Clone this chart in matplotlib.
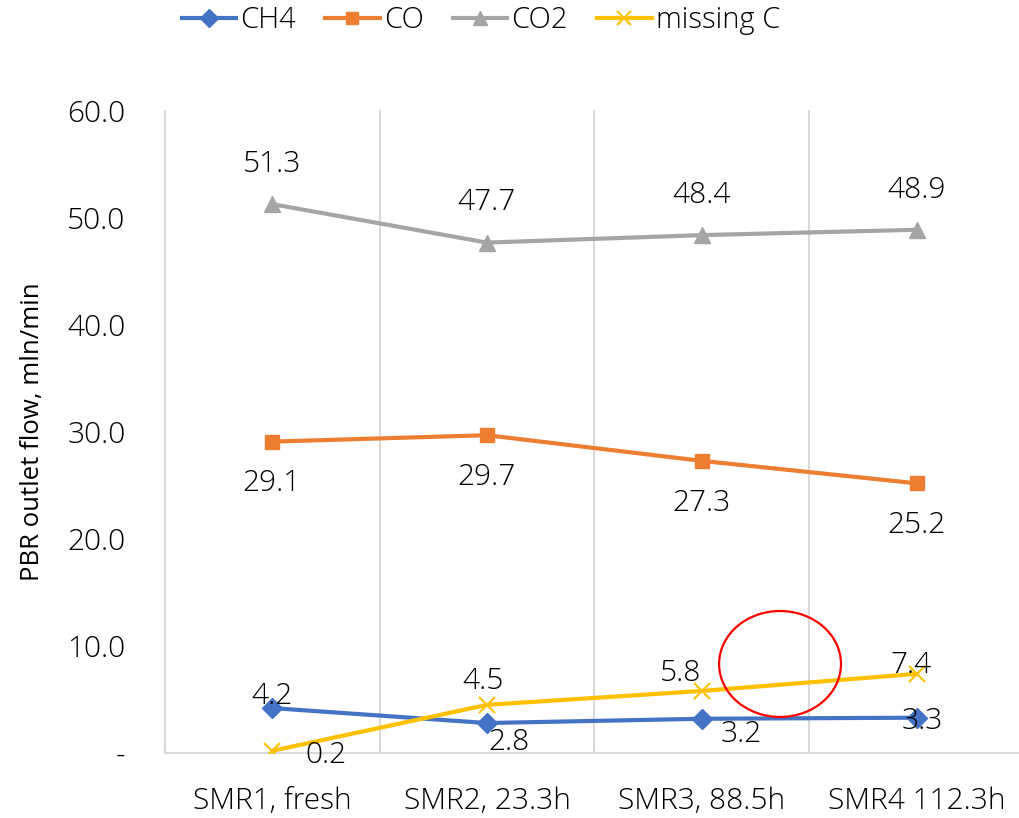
import matplotlib
matplotlib.use("Agg")
import matplotlib.pyplot as plt
from matplotlib.patches import Ellipse

plt.rcParams['font.family'] = ['Open Sans', 'DejaVu Sans']
plt.rcParams['font.weight'] = 'light'

categories = ["SMR1, fresh", "SMR2, 23.3h", "SMR3, 88.5h", "SMR4 112.3h"]
ch4 = [4.2, 2.8, 3.2, 3.3]
co = [29.1, 29.7, 27.3, 25.2]
co2 = [51.3, 47.7, 48.4, 48.9]
missing_c = [0.2, 4.5, 5.8, 7.4]
yticks = [0, 10, 20, 30, 40, 50, 60]
ytick_labels = ["-", "10.0", "20.0", "30.0", "40.0", "50.0", "60.0"]

W, H = 1020, 818
fig = plt.figure(figsize=(W / 100, H / 100), dpi=100)
left, right, top, bottom = 164.5, 1024.5, 111, 753
ax = fig.add_axes([left / W, 1 - bottom / H, (right - left) / W, (bottom - top) / H])

x = list(range(len(categories)))
fs = 21.5
l1, = ax.plot(x, ch4, color="#4472C4", lw=3, marker="D", ms=10, label="CH4", zorder=3)
l2, = ax.plot(x, co, color="#ED7D31", lw=3, marker="s", ms=10, label="CO", zorder=3)
l3, = ax.plot(x, co2, color="#A5A5A5", lw=3, marker="^", ms=11, label="CO2", zorder=3)
l4, = ax.plot(x, missing_c, color="#FFC000", lw=3, marker="x", ms=11, mew=1.5,
              label="missing C", zorder=3)

ax.set_xlim(-0.5, len(categories) - 0.5)
ax.set_ylim(0, 60)
ax.set_yticks(yticks)
ax.set_yticklabels(ytick_labels)
ax.set_xticks(x)
ax.set_xticklabels(categories)
ax.tick_params(axis='both', length=0, labelsize=fs, colors="#000000")
ax.tick_params(axis='y', pad=28)
ax.tick_params(axis='x', pad=24)
for lab in ax.get_yticklabels():
    lab.set_horizontalalignment('right')

for s in ["top", "right", "left"]:
    ax.spines[s].set_visible(False)
ax.spines["bottom"].set_color("#D9D9D9")
ax.spines["bottom"].set_linewidth(1.5)
for xv in [-0.5, 0.5, 1.5, 2.5, 3.5]:
    ax.axvline(xv, color="#D9D9D9", lw=1.5, zorder=1, clip_on=False)

ax.set_ylabel("PBR outlet flow, mln/min", fontsize=18.5, labelpad=16)

# data labels (offsets in pixels)
def label(series, offsets):
    for i, (v, off) in enumerate(zip(series, offsets)):
        ax.annotate(f"{v:.1f}", (i, v), xytext=off, textcoords="offset pixels",
                    ha="center", va="center", fontsize=fs, zorder=5)

label(co2, [(0, 40), (0, 40), (0, 40), (0, 40)])
label(co, [(0, -42), (0, -42), (0, -42), (0, -42)])
label(ch4, [(0, 12), (22, -19), (39, -15), (5, -4)])
label(missing_c, [(54, -4), (-4, 24), (-21, 18), (-6, 9)])

ax.add_patch(Ellipse((2.363, 8.32), 0.567, 9.9, fill=False, edgecolor="#FF0000",
                     lw=1.6, zorder=6, clip_on=False))

fig.legend(handles=[l1, l2, l3, l4], loc="center", bbox_to_anchor=(481 / W, 1 - 20 / H),
           ncol=4, frameon=False, fontsize=21, handlelength=1.86, handletextpad=0.15,
           columnspacing=1.0, markerscale=0.9)

fig.savefig("out.png", dpi=100)
